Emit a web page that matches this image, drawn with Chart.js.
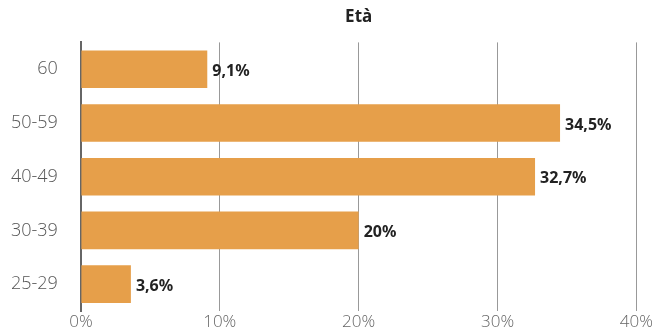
<!DOCTYPE html>
<html>
<head>
<meta charset="utf-8">
<script src="https://cdn.jsdelivr.net/npm/chart.js@4/dist/chart.umd.min.js"></script>
<style>
  html, body { margin: 0; padding: 0; background: #fff; overflow: hidden; }
  canvas { display: block; }
</style>
</head>
<body>
<canvas id="ageChart" width="656" height="331"></canvas>
<script>
const AGE_GROUPS = ["60", "50-59", "40-49", "30-39", "25-29"];
const SHARES = [9.1, 34.5, 32.7, 20, 3.6];
const X_TICKS = [0, 10, 20, 30, 40];

const BAR_COLOR = "#E69F4A";
const TICK_FONT = "'Open Sans', 'Noto Sans', sans-serif";
const BOLD_FONT = "'Noto Sans', 'DejaVu Sans', sans-serif";

// writes "9,1%" etc. just past the end of each bar
const barLabels = {
  id: "barLabels",
  afterDatasetsDraw(chart) {
    const { ctx } = chart;
    const meta = chart.getDatasetMeta(0);
    ctx.save();
    ctx.font = `bold 16px ${BOLD_FONT}`;
    ctx.fillStyle = "#222";
    ctx.textAlign = "left";
    ctx.textBaseline = "middle";
    meta.data.forEach((bar, i) => {
      const txt = String(SHARES[i]).replace(".", ",") + "%";
      ctx.fillText(txt, bar.x + 5, bar.y + 2);
    });
    ctx.restore();
  },
};

const chart = new Chart(document.getElementById("ageChart").getContext("2d"), {
  type: "bar",
  data: {
    labels: AGE_GROUPS,
    datasets: [
      {
        data: SHARES,
        backgroundColor: BAR_COLOR,
        barPercentage: 0.7,
        categoryPercentage: 1,
      },
    ],
  },
  options: {
    indexAxis: "y",
    responsive: false,
    animation: false,
    layout: { padding: { top: 0, right: 2, bottom: 0, left: -12 } },
    plugins: {
      legend: { display: false },
      tooltip: { enabled: false },
      title: {
        display: true,
        text: "Età",
        fullSize: false,
        color: "#222",
        font: { family: BOLD_FONT, size: 17, weight: "bold" },
        padding: { top: 7, bottom: 15 },
      },
    },
    scales: {
      x: {
        min: 0,
        max: 40,
        afterBuildTicks: (axis) => {
          axis.ticks = X_TICKS.map((v) => ({ value: v }));
        },
        afterFit: (axis) => {
          axis.height = 20;
        },
        grid: { color: "#999", lineWidth: 1, drawTicks: false },
        border: { display: false },
        ticks: {
          color: "#666",
          padding: 3,
          font: { family: TICK_FONT, size: 17, weight: 300, lineHeight: 1 },
          callback: (v) => v + "%",
        },
      },
      y: {
        afterFit: (axis) => {
          axis.paddingTop = 0;
          axis.paddingBottom = 0;
        },
        grid: { display: false, drawTicks: false },
        border: { display: true, color: "#666", width: 2 },
        ticks: {
          color: "#555",
          padding: 23,
          font: { family: TICK_FONT, size: 18, weight: 300, lineHeight: 0.2 },
        },
      },
    },
  },
  plugins: [barLabels],
});
</script>
</body>
</html>
